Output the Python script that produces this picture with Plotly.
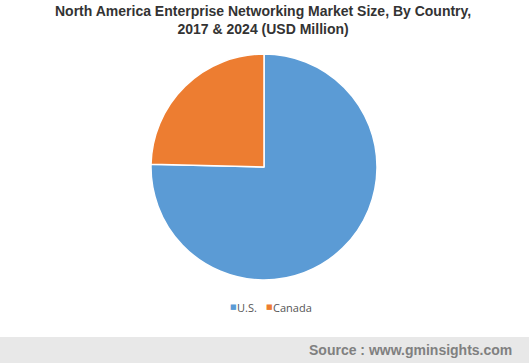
import plotly.graph_objects as go

countries = ["U.S.", "Canada"]
shares = [75.4, 24.6]
colors = ["#5B9BD5", "#ED7D31"]

W, H = 529, 363

fig = go.Figure()
fig.add_trace(go.Pie(
    labels=countries, values=shares, sort=False, direction="clockwise",
    rotation=0, marker=dict(colors=colors, line=dict(color="white", width=1.5)),
    textinfo="none", hoverinfo="label+value", showlegend=False,
    domain=dict(x=[151 / W, 377 / W], y=[(H - 280) / H, (H - 54) / H]),
))

# footer band
fig.add_shape(type="rect", xref="paper", yref="paper", x0=0, x1=1, y0=0, y1=26 / H,
              fillcolor="#E8E8E8", line=dict(width=0), layer="below")
fig.add_annotation(text="<b>Source : www.gminsights.com</b>",
                   xref="paper", yref="paper", x=514 / W, y=13 / H,
                   xanchor="right", yanchor="middle", showarrow=False,
                   font=dict(family="Liberation Sans, Arial", size=14, color="#808080"))

# title
fig.add_annotation(text="<b>North America Enterprise Networking Market Size, By Country,<br>2017 & 2024 (USD Million)</b>",
                   xref="paper", yref="paper", x=263 / W, y=1 - 1 / H,
                   xanchor="center", yanchor="top", showarrow=False,
                   font=dict(family="Liberation Sans, Arial", size=14, color="#333333"))

# legend
lx = [228, 264]
for i, (c, col) in enumerate(zip(countries, colors)):
    fig.add_annotation(text="■", xref="paper", yref="paper", x=lx[i] / W, y=1 - 307 / H,
                       xanchor="left", yanchor="middle", showarrow=False,
                       font=dict(family="DejaVu Sans", size=7, color=col))
    fig.add_annotation(text=c, xref="paper", yref="paper", x=(lx[i] + 7) / W, y=1 - 307 / H,
                       xanchor="left", yanchor="middle", showarrow=False,
                       font=dict(family="Open Sans, Liberation Sans", size=11, color="#555555"))

fig.update_layout(width=W, height=H, margin=dict(l=0, r=0, t=0, b=0),
                  paper_bgcolor="white", plot_bgcolor="white")
fig.write_html("out.html")
